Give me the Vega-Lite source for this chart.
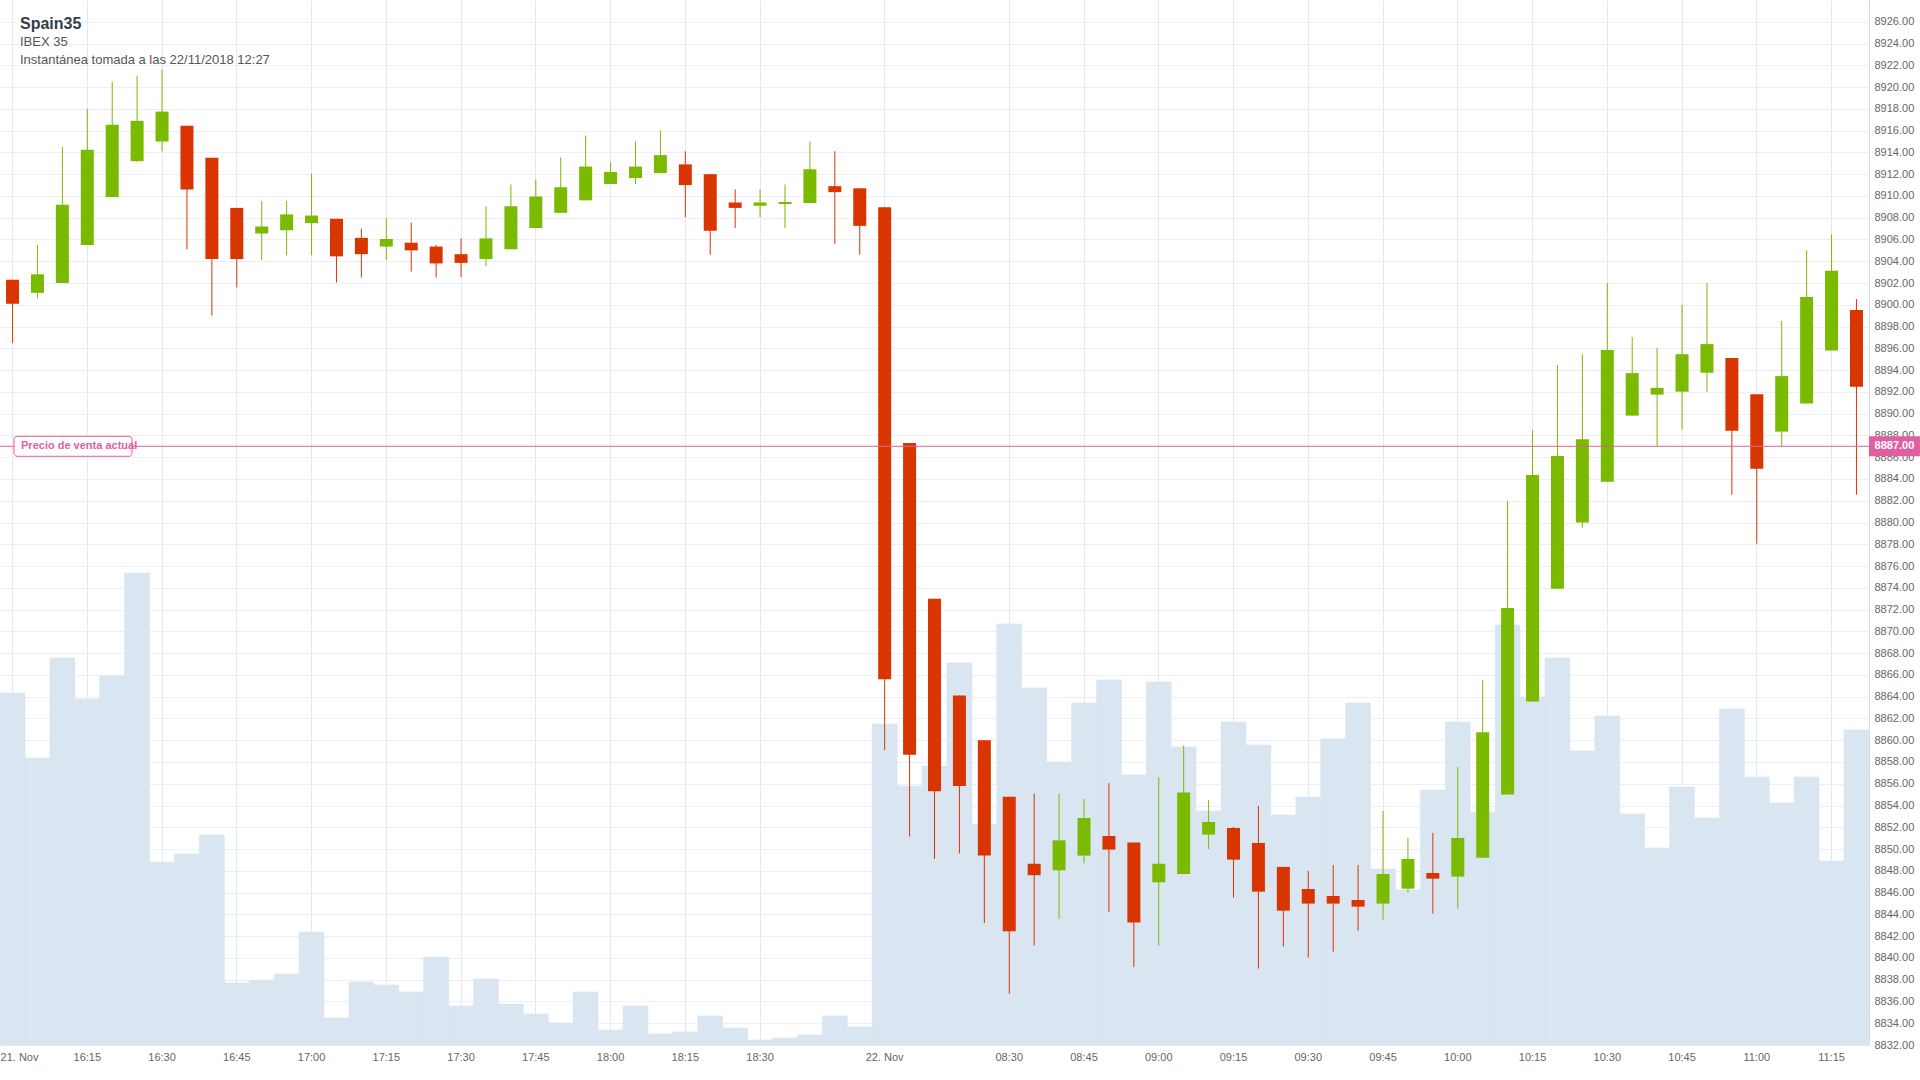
{
  "$schema": "https://vega.github.io/schema/vega-lite/v6.json",
  "width": 1869,
  "height": 1045,
  "autosize": {"type": "none"},
  "padding": {"left": 0, "top": 0, "right": 51, "bottom": 35},
  "background": "white",
  "config": {
    "view": {"stroke": null},
    "font": "Liberation Sans",
    "axis": {"labelFont": "Liberation Sans"}
  },
  "title": {
    "text": "Spain35",
    "subtitle": ["IBEX 35", "Instantánea tomada a las 22/11/2018 12:27"],
    "anchor": "start",
    "frame": "group",
    "orient": "top",
    "offset": -67,
    "dx": 20,
    "font": "Liberation Sans",
    "fontSize": 16,
    "fontWeight": "bold",
    "color": "#333e48",
    "subtitleFont": "Liberation Sans",
    "subtitleFontSize": 13,
    "subtitleColor": "#555555",
    "subtitlePadding": 4,
    "subtitleLineHeight": 18
  },
  "datasets": {
    "candles": [
      {"t": "21 16:00", "open": 8902.3, "high": 8902.3, "low": 8896.5, "close": 8900.1, "vol": 704},
      {"t": "21 16:05", "open": 8901.1, "high": 8905.5, "low": 8900.6, "close": 8902.8, "vol": 574},
      {"t": "21 16:10", "open": 8902.0, "high": 8914.5, "low": 8902.0, "close": 8909.2, "vol": 774},
      {"t": "21 16:15", "open": 8905.5, "high": 8918.0, "low": 8905.5, "close": 8914.25, "vol": 692},
      {"t": "21 16:20", "open": 8909.9, "high": 8920.5, "low": 8909.9, "close": 8916.55, "vol": 738},
      {"t": "21 16:25", "open": 8913.2, "high": 8921.05, "low": 8913.1, "close": 8916.9, "vol": 944},
      {"t": "21 16:30", "open": 8915.0, "high": 8921.6, "low": 8914.1, "close": 8917.75, "vol": 366},
      {"t": "21 16:35", "open": 8916.45, "high": 8916.45, "low": 8905.1, "close": 8910.6, "vol": 382},
      {"t": "21 16:40", "open": 8913.5, "high": 8913.5, "low": 8899.0, "close": 8904.2, "vol": 420},
      {"t": "21 16:45", "open": 8908.9, "high": 8908.9, "low": 8901.6, "close": 8904.2, "vol": 124},
      {"t": "21 16:50", "open": 8906.55, "high": 8909.55, "low": 8904.1, "close": 8907.2, "vol": 130},
      {"t": "21 16:55", "open": 8906.85, "high": 8909.55, "low": 8904.55, "close": 8908.3, "vol": 142},
      {"t": "21 17:00", "open": 8907.5, "high": 8912.05, "low": 8904.55, "close": 8908.2, "vol": 226},
      {"t": "21 17:05", "open": 8907.9, "high": 8907.9, "low": 8902.05, "close": 8904.45, "vol": 54},
      {"t": "21 17:10", "open": 8906.15, "high": 8907.0, "low": 8902.5, "close": 8904.65, "vol": 126},
      {"t": "21 17:15", "open": 8905.35, "high": 8908.0, "low": 8904.1, "close": 8906.05, "vol": 120},
      {"t": "21 17:20", "open": 8905.7, "high": 8907.55, "low": 8903.05, "close": 8905.0, "vol": 106},
      {"t": "21 17:25", "open": 8905.35, "high": 8905.5, "low": 8902.5, "close": 8903.8, "vol": 176},
      {"t": "21 17:30", "open": 8904.65, "high": 8906.1, "low": 8902.55, "close": 8903.85, "vol": 78},
      {"t": "21 17:35", "open": 8904.2, "high": 8909.05, "low": 8903.55, "close": 8906.1, "vol": 132},
      {"t": "21 17:40", "open": 8905.1, "high": 8911.05, "low": 8905.1, "close": 8909.05, "vol": 82},
      {"t": "21 17:45", "open": 8907.05, "high": 8911.5, "low": 8907.05, "close": 8909.95, "vol": 62},
      {"t": "21 17:50", "open": 8908.45, "high": 8913.55, "low": 8908.45, "close": 8910.8, "vol": 44},
      {"t": "21 17:55", "open": 8909.6, "high": 8915.55, "low": 8909.6, "close": 8912.7, "vol": 106},
      {"t": "21 18:00", "open": 8911.1, "high": 8913.1, "low": 8911.1, "close": 8912.2, "vol": 30},
      {"t": "21 18:05", "open": 8911.65, "high": 8915.0, "low": 8911.1, "close": 8912.7, "vol": 78},
      {"t": "21 18:10", "open": 8912.1, "high": 8916.0, "low": 8912.1, "close": 8913.75, "vol": 22},
      {"t": "21 18:15", "open": 8912.9, "high": 8914.1, "low": 8908.05, "close": 8911.0, "vol": 26},
      {"t": "21 18:20", "open": 8912.0, "high": 8912.0, "low": 8904.6, "close": 8906.8, "vol": 58},
      {"t": "21 18:25", "open": 8909.4, "high": 8910.6, "low": 8907.05, "close": 8908.9, "vol": 34},
      {"t": "21 18:30", "open": 8909.1, "high": 8910.6, "low": 8908.05, "close": 8909.4, "vol": 10},
      {"t": "21 18:35", "open": 8909.26, "high": 8911.05, "low": 8907.05, "close": 8909.45, "vol": 14},
      {"t": "21 18:40", "open": 8909.35, "high": 8915.0, "low": 8909.35, "close": 8912.45, "vol": 20},
      {"t": "21 18:45", "open": 8910.9, "high": 8914.1, "low": 8905.6, "close": 8910.35, "vol": 58},
      {"t": "21 18:50", "open": 8910.7, "high": 8910.7, "low": 8904.6, "close": 8907.25, "vol": 36},
      {"t": "22 08:05", "open": 8908.95, "high": 8908.95, "low": 8859.1, "close": 8865.6, "vol": 642},
      {"t": "22 08:10", "open": 8887.3, "high": 8887.3, "low": 8851.15, "close": 8858.66, "vol": 518},
      {"t": "22 08:15", "open": 8873.0, "high": 8873.0, "low": 8849.1, "close": 8855.3, "vol": 558},
      {"t": "22 08:20", "open": 8864.1, "high": 8864.1, "low": 8849.6, "close": 8855.8, "vol": 764},
      {"t": "22 08:25", "open": 8860.0, "high": 8860.0, "low": 8843.2, "close": 8849.4, "vol": 442},
      {"t": "22 08:30", "open": 8854.8, "high": 8854.8, "low": 8836.7, "close": 8842.45, "vol": 842},
      {"t": "22 08:35", "open": 8848.65, "high": 8855.1, "low": 8841.15, "close": 8847.6, "vol": 714},
      {"t": "22 08:40", "open": 8848.05, "high": 8855.1, "low": 8843.6, "close": 8850.8, "vol": 566},
      {"t": "22 08:45", "open": 8849.4, "high": 8854.6, "low": 8848.7, "close": 8852.85, "vol": 684},
      {"t": "22 08:50", "open": 8851.2, "high": 8856.05, "low": 8844.2, "close": 8849.95, "vol": 730},
      {"t": "22 08:55", "open": 8850.6, "high": 8850.6, "low": 8839.15, "close": 8843.25, "vol": 540},
      {"t": "22 09:00", "open": 8846.95, "high": 8856.6, "low": 8841.15, "close": 8848.65, "vol": 726},
      {"t": "22 09:05", "open": 8847.7, "high": 8859.5, "low": 8847.7, "close": 8855.2, "vol": 596},
      {"t": "22 09:10", "open": 8851.33, "high": 8854.51, "low": 8850.01, "close": 8852.49, "vol": 468},
      {"t": "22 09:15", "open": 8851.94, "high": 8852.03, "low": 8845.54, "close": 8849.03, "vol": 646},
      {"t": "22 09:20", "open": 8850.56, "high": 8853.96, "low": 8839.02, "close": 8846.09, "vol": 600},
      {"t": "22 09:25", "open": 8848.36, "high": 8848.36, "low": 8841.04, "close": 8844.34, "vol": 460},
      {"t": "22 09:30", "open": 8846.33, "high": 8847.99, "low": 8840.03, "close": 8844.99, "vol": 496},
      {"t": "22 09:35", "open": 8845.69, "high": 8848.54, "low": 8840.58, "close": 8844.99, "vol": 612},
      {"t": "22 09:40", "open": 8845.32, "high": 8848.54, "low": 8842.51, "close": 8844.71, "vol": 684},
      {"t": "22 09:45", "open": 8844.99, "high": 8853.5, "low": 8843.52, "close": 8847.71, "vol": 352},
      {"t": "22 09:50", "open": 8846.36, "high": 8851.02, "low": 8846.0, "close": 8849.09, "vol": 310},
      {"t": "22 09:55", "open": 8847.8, "high": 8851.48, "low": 8844.07, "close": 8847.28, "vol": 510},
      {"t": "22 10:00", "open": 8847.47, "high": 8857.54, "low": 8844.53, "close": 8851.02, "vol": 646},
      {"t": "22 10:05", "open": 8849.21, "high": 8865.53, "low": 8849.21, "close": 8860.74, "vol": 466},
      {"t": "22 10:10", "open": 8855.01, "high": 8881.97, "low": 8855.01, "close": 8872.14, "vol": 840},
      {"t": "22 10:15", "open": 8863.56, "high": 8888.5, "low": 8863.56, "close": 8884.36, "vol": 696},
      {"t": "22 10:20", "open": 8873.92, "high": 8894.46, "low": 8873.92, "close": 8886.1, "vol": 774},
      {"t": "22 10:25", "open": 8879.99, "high": 8895.46, "low": 8879.53, "close": 8887.65, "vol": 588},
      {"t": "22 10:30", "open": 8883.75, "high": 8902.0, "low": 8883.75, "close": 8895.85, "vol": 658},
      {"t": "22 10:35", "open": 8889.82, "high": 8897.05, "low": 8889.82, "close": 8893.72, "vol": 462},
      {"t": "22 10:40", "open": 8891.75, "high": 8896.04, "low": 8887.03, "close": 8892.37, "vol": 394},
      {"t": "22 10:45", "open": 8892.02, "high": 8899.99, "low": 8888.54, "close": 8895.46, "vol": 516},
      {"t": "22 10:50", "open": 8893.76, "high": 8902.0, "low": 8892.02, "close": 8896.39, "vol": 454},
      {"t": "22 10:55", "open": 8895.11, "high": 8895.11, "low": 8882.55, "close": 8888.42, "vol": 672},
      {"t": "22 11:00", "open": 8891.79, "high": 8891.79, "low": 8878.06, "close": 8884.94, "vol": 536},
      {"t": "22 11:05", "open": 8888.35, "high": 8898.52, "low": 8887.03, "close": 8893.45, "vol": 484},
      {"t": "22 11:10", "open": 8890.94, "high": 8905.01, "low": 8890.94, "close": 8900.72, "vol": 536},
      {"t": "22 11:15", "open": 8895.81, "high": 8906.48, "low": 8895.81, "close": 8903.12, "vol": 368},
      {"t": "22 11:20", "open": 8899.52, "high": 8900.53, "low": 8882.55, "close": 8892.48, "vol": 630}
    ],
    "price": [
      {"price": 8887, "label": "Precio de venta actual"}
    ]
  },
  "resolve": {"scale": {"y": "independent"}, "axis": {"y": "independent"}},
  "layer": [
    {
      "data": {"name": "candles"},
      "mark": {"type": "bar", "color": "#d9e6f1", "stroke": "#d9e6f1", "strokeWidth": 0.6},
      "encoding": {
        "x": {
          "field": "t",
          "type": "ordinal",
          "scale": {"type": "band", "paddingInner": 0, "paddingOuter": 0.003},
          "axis": {
            "title": null,
            "values": ["21 16:00", "21 16:15", "21 16:30", "21 16:45", "21 17:00", "21 17:15", "21 17:30", "21 17:45", "21 18:00", "21 18:15", "21 18:30", "22 08:05", "22 08:30", "22 08:45", "22 09:00", "22 09:15", "22 09:30", "22 09:45", "22 10:00", "22 10:15", "22 10:30", "22 10:45", "22 11:00", "22 11:15"],
            "labelExpr": "datum.value == '21 16:00' ? '21. Nov' : datum.value == '22 08:05' ? '22. Nov' : slice(datum.value, 3)",
            "labelAngle": 0,
            "bandPosition": 0.5,
            "domain": false,
            "ticks": false,
            "grid": true,
            "gridColor": "#e6e6f0",
            "gridWidth": 1,
            "labelFontSize": 11,
            "labelColor": "#666666",
            "labelPadding": 6,
            "labelAlign": {"condition": {"test": "datum.value == '21 16:00'", "value": "left"}, "value": "center"},
            "labelOffset": {"condition": {"test": "datum.value == '21 16:00'", "value": -12}, "value": 0},
            "labelOverlap": false,
            "labelSeparation": 0
          }
        },
        "y": {
          "field": "vol",
          "type": "quantitative",
          "scale": {"domain": [0, 2090], "nice": false, "zero": true},
          "axis": null
        }
      }
    },
    {
      "data": {"name": "candles"},
      "mark": {"type": "rule", "strokeWidth": 1},
      "encoding": {
        "x": {"field": "t", "type": "ordinal"},
        "y": {
          "field": "low",
          "type": "quantitative",
          "scale": {"domain": [8832, 8928], "nice": false, "zero": false},
          "axis": {
            "orient": "right",
            "title": null,
            "values": [8832, 8834, 8836, 8838, 8840, 8842, 8844, 8846, 8848, 8850, 8852, 8854, 8856, 8858, 8860, 8862, 8864, 8866, 8868, 8870, 8872, 8874, 8876, 8878, 8880, 8882, 8884, 8886, 8888, 8890, 8892, 8894, 8896, 8898, 8900, 8902, 8904, 8906, 8908, 8910, 8912, 8914, 8916, 8918, 8920, 8922, 8924, 8926],
            "format": ".2f",
            "grid": true,
            "gridColor": "#eeeef6",
            "ticks": false,
            "domain": true,
            "domainColor": "#d8d8e6",
            "labelFontSize": 11,
            "labelColor": "#666666",
            "labelPadding": 5,
            "labelAlign": "left",
            "labelOverlap": false,
            "labelSeparation": 0
          }
        },
        "y2": {"field": "high"},
        "color": {"condition": {"test": "datum.close >= datum.open", "value": "#7aba00"}, "value": "#d93500"}
      }
    },
    {
      "data": {"name": "candles"},
      "mark": {"type": "bar", "width": 13},
      "encoding": {
        "x": {"field": "t", "type": "ordinal"},
        "y": {"field": "open", "type": "quantitative", "scale": {"domain": [8832, 8928], "nice": false, "zero": false}, "axis": null},
        "y2": {"field": "close"},
        "color": {"condition": {"test": "datum.close >= datum.open", "value": "#7aba00"}, "value": "#d93500"}
      }
    },
    {
      "data": {"name": "price"},
      "mark": {"type": "rule", "color": "#e0609f", "strokeWidth": 1},
      "encoding": {
        "y": {"field": "price", "type": "quantitative", "scale": {"domain": [8832, 8928], "nice": false, "zero": false}, "axis": null}
      }
    },
    {
      "data": {"name": "price"},
      "mark": {"type": "tick", "orient": "horizontal", "size": 118, "thickness": 20, "fill": "white", "stroke": "#e0609f", "strokeWidth": 1, "cornerRadius": 3, "xOffset": 60.5, "opacity": 1},
      "encoding": {
        "x": {"datum": "21 16:00", "type": "ordinal"},
        "y": {"field": "price", "type": "quantitative", "scale": {"domain": [8832, 8928], "nice": false, "zero": false}, "axis": null}
      }
    },
    {
      "data": {"name": "price"},
      "mark": {"type": "text", "align": "left", "baseline": "middle", "dx": 8.5, "fontSize": 11, "fontWeight": "bold", "color": "#e0609f", "font": "Liberation Sans"},
      "encoding": {
        "x": {"datum": "21 16:00", "type": "ordinal"},
        "y": {"field": "price", "type": "quantitative", "scale": {"domain": [8832, 8928], "nice": false, "zero": false}, "axis": null},
        "text": {"field": "label"}
      }
    },
    {
      "data": {"name": "price"},
      "mark": {"type": "tick", "orient": "horizontal", "size": 51, "thickness": 20, "color": "#e0609f", "xOffset": 38, "opacity": 1},
      "encoding": {
        "x": {"datum": "22 11:20", "type": "ordinal"},
        "y": {"field": "price", "type": "quantitative", "scale": {"domain": [8832, 8928], "nice": false, "zero": false}, "axis": null}
      }
    },
    {
      "data": {"name": "price"},
      "mark": {"type": "text", "align": "center", "baseline": "middle", "dx": 38, "fontSize": 11, "fontWeight": "bold", "color": "white", "font": "Liberation Sans"},
      "encoding": {
        "x": {"datum": "22 11:20", "type": "ordinal"},
        "y": {"field": "price", "type": "quantitative", "scale": {"domain": [8832, 8928], "nice": false, "zero": false}, "axis": null},
        "text": {"field": "price", "format": ".2f"}
      }
    }
  ]
}
